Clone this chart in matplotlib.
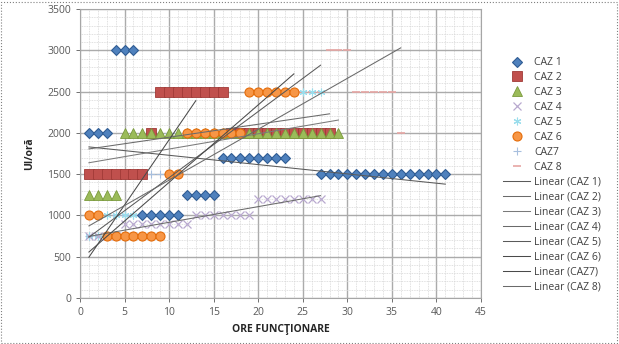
import numpy as np
import matplotlib
matplotlib.use("Agg")
import matplotlib.pyplot as plt
from matplotlib.lines import Line2D
from matplotlib.patches import Rectangle

plt.rcParams['font.family'] = ['Open Sans', 'DejaVu Sans']

# ore functionare (x) si UI/ora (y) pentru fiecare caz
caz1_x = [1, 2, 3, 4, 5, 6, 7, 8, 9, 10, 11, 12, 13, 14, 15, 16, 17, 18, 19, 20, 21, 22, 23,
          27, 28, 29, 30, 31, 32, 33, 34, 35, 36, 37, 38, 39, 40, 41]
caz1_y = [2000, 2000, 2000, 3000, 3000, 3000, 1000, 1000, 1000, 1000, 1000,
          1250, 1250, 1250, 1250, 1700, 1700, 1700, 1700, 1700, 1700, 1700, 1700,
          1500, 1500, 1500, 1500, 1500, 1500, 1500, 1500, 1500, 1500, 1500, 1500, 1500, 1500, 1500]

caz2_x = list(range(1, 29))
caz2_y = [1500] * 7 + [2000] + [2500] * 8 + [2000] * 12

caz3_x = list(range(1, 30))
caz3_y = [1250] * 4 + [2000] * 25

caz4_x = list(range(1, 28))
caz4_y = [750] * 4 + [900] * 8 + [1000] * 7 + [1200] * 8

caz5_x = list(range(1, 28))
caz5_y = [750] * 2 + [1000] * 7 + [1500] * 2 + [2000] * 7 + [2500] * 9

caz6_x = list(range(1, 25))
caz6_y = [1000] * 2 + [750] * 7 + [1500] * 2 + [2000] * 7 + [2500] * 6

caz7_x = list(range(1, 14))
caz7_y = [750] * 3 + [1000] * 3 + [1500] * 3 + [2000] * 2 + [2500] * 2

caz8_x = list(range(1, 37))
caz8_y = ([1000] * 2 + [750] * 7 + [1500] * 2 + [2000] * 7 + [2500] * 6
          + [2500] * 3 + [3000] * 3 + [2500] * 5 + [2000])

labels = ['CAZ 1', 'CAZ 2', 'CAZ 3', 'CAZ 4', 'CAZ 5', 'CAZ 6', 'CAZ7', 'CAZ 8']
xs = [caz1_x, caz2_x, caz3_x, caz4_x, caz5_x, caz6_x, caz7_x, caz8_x]
ys = [caz1_y, caz2_y, caz3_y, caz4_y, caz5_y, caz6_y, caz7_y, caz8_y]

styles = [
    dict(marker='D', ms=5.2, mfc='#4F81BD', mec='#2F5C93', mew=0.8, zorder=4),
    dict(marker='s', ms=6.5, mfc='#C0504D', mec='#A03A37', mew=0.6, zorder=4),
    dict(marker='^', ms=6.5, mfc='#9BBB59', mec='#7A9A3C', mew=0.6, zorder=4),
    dict(marker='x', ms=5.5, mfc='none', mec='#B9A9CF', mew=0.9, zorder=3.5),
    dict(marker=(6, 2, 0), ms=5.5, mfc='none', mec='#9ADDEC', mew=0.8, zorder=3),
    dict(marker='o', ms=6.5, mfc='#F79646', mec='#E46C0A', mew=0.8, zorder=4),
    dict(marker='+', ms=5.5, mfc='none', mec='#A7BFDE', mew=0.8, zorder=2.5),
    dict(marker='_', ms=6, mfc='none', mec='#E6A5A3', mew=1.2, zorder=2.5),
]
trend_colors = ['#5A5A5A', '#6A6A6A', '#7A7A7A', '#6A6A6A', '#5A5A5A', '#4A4A4A', '#4A4A4A', '#6A6A6A']

fig = plt.figure(figsize=(6.19, 3.44), dpi=100)
ax = fig.add_axes([80 / 619, 46 / 344, 401 / 619, 289 / 344])

handles = []
for x, y, lab, st in zip(xs, ys, labels, styles):
    ax.plot(x, y, ls='none', **st)
    handles.append(Line2D([], [], ls='none', label=lab,
                          **{k: v for k, v in st.items() if k != 'zorder'}))

for x, y, lab, c in zip(xs, ys, labels, trend_colors):
    k, b = np.polyfit(x, y, 1)
    xx = np.array([min(x), max(x)])
    ax.plot(xx, k * xx + b, color=c, lw=0.75, zorder=5)
    handles.append(Line2D([], [], color=c, lw=0.75, label='Linear (' + lab + ')'))

ax.set_xlim(0, 45)
ax.set_ylim(0, 3500)
ax.set_xticks(np.arange(0, 46, 5))
ax.set_yticks(np.arange(0, 3501, 500))
ax.set_xticks(np.arange(0, 46, 1), minor=True)
ax.set_yticks(np.arange(0, 3501, 100), minor=True)
ax.grid(which='major', color='#ABABAB', lw=1.0, zorder=0)
ax.grid(which='minor', color='#D6D6D6', lw=0.6, ls=(0, (1, 1)), zorder=0)
ax.set_axisbelow(True)
ax.tick_params(which='both', labelsize=7.5, colors='#595959', length=3, width=0.6)
ax.tick_params(which='minor', length=0)
for sp in ax.spines.values():
    sp.set_color('#A6A6A6')

ax.set_xlabel('ORE FUNCŢIONARE', fontsize=7.5, fontweight='bold', color='#262626', labelpad=4)
ax.set_ylabel('UI/oră', fontsize=7.5, fontweight='bold', color='#262626', labelpad=9)

fig.legend(handles=handles, loc='upper left', bbox_to_anchor=(499 / 619, 291 / 344),
           frameon=False, fontsize=7.5, labelspacing=0.38, handlelength=2.6,
           handletextpad=0.4, numpoints=1, labelcolor='#404040', borderaxespad=0)

fig.patches.append(Rectangle((0.002, 0.003), 0.994, 0.992, transform=fig.transFigure,
                             fill=False, ls=':', lw=0.8, ec='#808080'))

fig.savefig('out.png', dpi=100)
